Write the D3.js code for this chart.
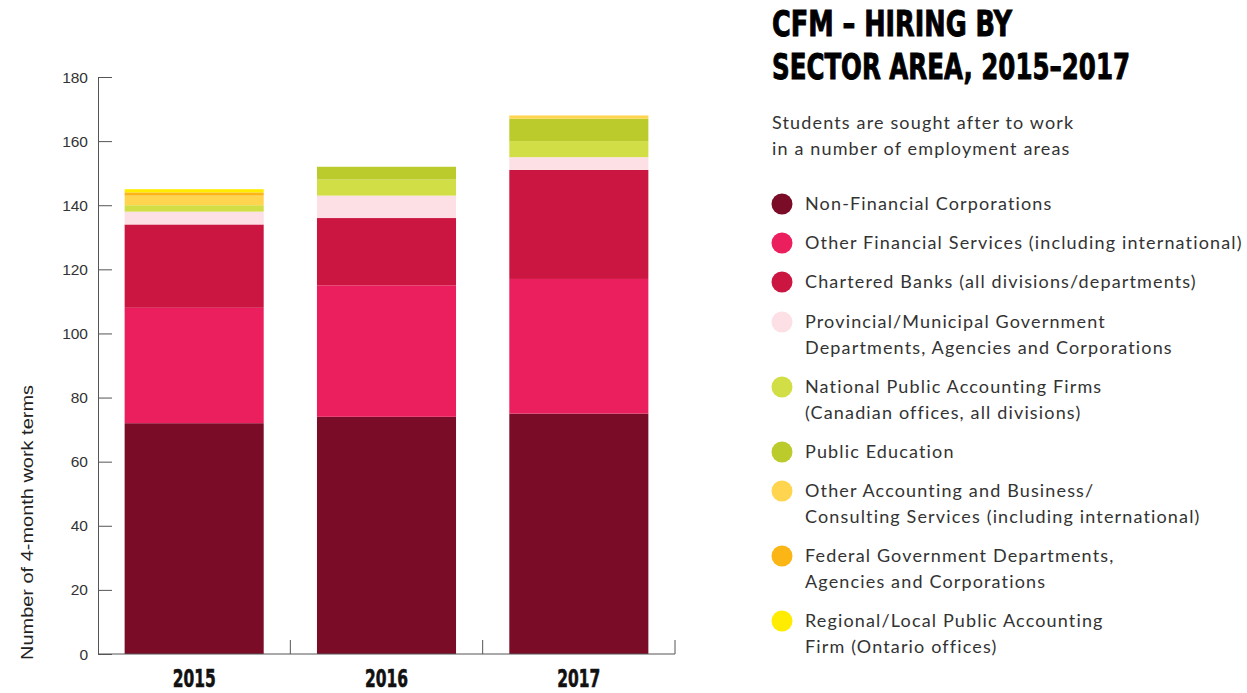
<!DOCTYPE html>
<html><head><meta charset="utf-8">
<script src="https://cdn.jsdelivr.net/npm/d3@7"></script>
<style>
html,body{margin:0;padding:0;background:#fff;}
svg{display:block;}
</style></head>
<body>
<svg id="chart" width="1247" height="693"></svg>
<script>
const years = ["2015", "2016", "2017"];
const sectors = [
  "Non-Financial Corporations",
  "Other Financial Services (including international)",
  "Chartered Banks (all divisions/departments)",
  "Provincial/Municipal Government|Departments, Agencies and Corporations",
  "National Public Accounting Firms|(Canadian offices, all divisions)",
  "Public Education",
  "Other Accounting and Business/|Consulting Services (including international)",
  "Federal Government Departments,|Agencies and Corporations",
  "Regional/Local Public Accounting|Firm (Ontario offices)"
];
const colors = ["#7a0c28", "#ec1f5e", "#cc1642", "#fde0e5", "#d1de45", "#bccb2c", "#ffd54f", "#fbb515", "#ffec00"];
const nonFinancial   = [72, 74, 75];
const otherFinancial = [36, 41, 42];
const chartered      = [26, 21, 34];
const provincial     = [4, 7, 4];
const nationalPA     = [2, 5, 5];
const publicEd       = [0, 4, 7];
const otherAcct      = [3, 0, 1];
const federal        = [1, 0, 0];
const regional       = [1, 0, 0];
const yTicks = [0, 20, 40, 60, 80, 100, 120, 140, 160, 180];

const seriesVals = [nonFinancial, otherFinancial, chartered, provincial, nationalPA, publicEd, otherAcct, federal, regional];
const rows = years.map((y, i) => {
  const r = {year: y};
  sectors.forEach((s, k) => r[s] = seriesVals[k][i]);
  return r;
});

const svg = d3.select("#chart");
const x = d3.scaleBand().domain(years).range([98, 675]).paddingInner(0.277).paddingOuter(0.1385);
const y = d3.scaleLinear().domain([0, 180]).range([654, 77]);
const stack = d3.stack().keys(sectors)(rows);

const gBars = svg.append("g");
stack.forEach((layer, k) => {
  gBars.selectAll(null).data(layer).enter().append("rect")
    .attr("x", d => x(d.data.year))
    .attr("width", x.bandwidth())
    .attr("y", d => y(d[1]))
    .attr("height", d => y(d[0]) - y(d[1]))
    .attr("fill", colors[k]);
});

// y axis
const yAxis = svg.append("g").attr("transform", "translate(98,0)")
  .call(d3.axisRight(y).tickValues(yTicks).tickSize(14).tickFormat(d => ""));
yAxis.select(".domain").attr("stroke", "#555");
yAxis.selectAll(".tick line").attr("stroke", "#555");
svg.append("g").selectAll("text").data(yTicks).enter().append("text")
  .attr("x", 88).attr("y", d => y(d) + 5.5)
  .attr("text-anchor", "end")
  .attr("font-family", "Liberation Sans, Arial, sans-serif")
  .attr("font-size", 15.5).attr("fill", "#333")
  .text(d => d);

// x axis
const xg = svg.append("g");
xg.append("line").attr("x1", 98).attr("x2", 675).attr("y1", y(0)).attr("y2", y(0)).attr("stroke", "#555");
years.forEach((yr, i) => {
  const bx = 98 + x.step() * (i + 1);
  xg.append("line").attr("x1", bx).attr("x2", bx).attr("y1", y(0)).attr("y2", y(0) - 14).attr("stroke", "#555");
});
xg.selectAll("text").data(years).enter().append("text")
  .attr("x", d => x(d) + x.bandwidth() / 2)
  .attr("y", 687)
  .attr("text-anchor", "middle")
  .attr("font-family", "Liberation Sans Narrow, DejaVu Sans Condensed, Arial Narrow, sans-serif")
  .attr("font-weight", "bold").attr("font-size", 25).attr("fill", "#111")
  .attr("stroke", "#111").attr("stroke-width", 0.6)
  .attr("textLength", 43).attr("lengthAdjust", "spacingAndGlyphs")
  .text(d => d);

// y label
svg.append("text")
  .attr("transform", "translate(33,660) rotate(-90)")
  .attr("font-family", "Liberation Sans, Arial, sans-serif")
  .attr("font-size", 17).attr("fill", "#222")
  .attr("textLength", 275).attr("lengthAdjust", "spacingAndGlyphs")
  .text("Number of 4-month work terms");

// title
const titleF = "Liberation Sans Narrow, DejaVu Sans Condensed, Arial Narrow, sans-serif";
svg.append("text").attr("x", 772).attr("y", 36)
  .attr("font-family", titleF).attr("font-weight", "bold").attr("font-size", 36).attr("fill", "#000")
  .attr("stroke", "#000").attr("stroke-width", 0.9)
  .attr("textLength", 240).attr("lengthAdjust", "spacingAndGlyphs")
  .text("CFM – HIRING BY");
svg.append("text").attr("x", 772).attr("y", 79)
  .attr("font-family", titleF).attr("font-weight", "bold").attr("font-size", 36).attr("fill", "#000")
  .attr("stroke", "#000").attr("stroke-width", 0.9)
  .attr("textLength", 358).attr("lengthAdjust", "spacingAndGlyphs")
  .text("SECTOR AREA, 2015–2017");

const bodyF = "Lato, 'Noto Sans', sans-serif";
const bodySize = 18, bodySpacing = 1.15;
svg.append("text").attr("x", 772).attr("y", 129)
  .attr("font-family", bodyF).attr("font-size", bodySize).attr("letter-spacing", bodySpacing).attr("fill", "#333")
  .text("Students are sought after to work");
svg.append("text").attr("x", 772).attr("y", 155)
  .attr("font-family", bodyF).attr("font-size", bodySize).attr("letter-spacing", bodySpacing).attr("fill", "#333")
  .text("in a number of employment areas");

// legend
const legendY = [204, 243, 282, 322, 387, 452, 491, 556, 621];
const lg = svg.append("g");
sectors.forEach((s, k) => {
  lg.append("circle").attr("cx", 782).attr("cy", legendY[k]).attr("r", 10.5).attr("fill", colors[k]);
  const lines = s.split("|");
  lines.forEach((ln, j) => {
    lg.append("text").attr("x", 805).attr("y", legendY[k] + 6 + j * 26)
      .attr("font-family", bodyF).attr("font-size", bodySize).attr("letter-spacing", bodySpacing).attr("fill", "#333")
      .text(ln);
  });
});
</script>
</body></html>
